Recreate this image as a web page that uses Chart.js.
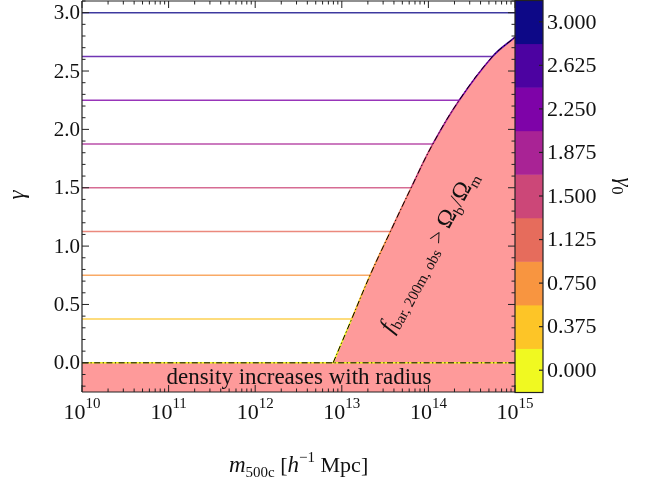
<!DOCTYPE html>
<html>
<head>
<meta charset="utf-8">
<script src="https://cdn.jsdelivr.net/npm/chart.js@4.4.1/dist/chart.umd.min.js"></script>
<style>
  html, body { margin: 0; padding: 0; background: #fff; }
  #wrap { width: 650px; height: 485px; }
</style>
</head>
<body>
<div id="wrap"><canvas id="chart" width="650" height="485"></canvas></div>
<script>
// gamma_0 levels and their plasma colours (low -> high)
const gammaLevels = [0, 0.375, 0.75, 1.125, 1.5, 1.875, 2.25, 2.625, 3.0];
const levelColors = ['#f0f921', '#fdc527', '#f89540', '#e66c5c', '#cc4778', '#a92395', '#7e03a8', '#4c02a1', '#0d0887'];
const levelLabels = ['0.000', '0.375', '0.750', '1.125', '1.500', '1.875', '2.250', '2.625', '3.000'];
// where each constant-gamma line stops (meets the shaded region)
const lineStartMass = 1e10;
const lineEndMass = [1e15, 1.30e13, 2.12e13, 3.64e13, 6.32e13, 1.125e14, 2.27e14, 5.51e14, 1e15];
// boundary of f_bar > Omega_b/Omega_m region
const boundaryMass = [7.94e12, 1.30e13, 2.12e13, 3.64e13, 6.32e13, 1.125e14, 2.27e14, 5.51e14, 1e15];
const boundaryGamma = [0, 0.375, 0.75, 1.125, 1.5, 1.875, 2.25, 2.625, 2.79];
// axis ticks
const xTickExp = [10, 11, 12, 13, 14, 15];
const yTickValues = [0, 0.5, 1.0, 1.5, 2.0, 2.5, 3.0];
const yMinorStep = 0.1;

const SERIF = "'Liberation Serif', 'DejaVu Serif', serif";
const PINK = '#fe9a9a';
const DASHDOT = [6, 2.5, 1.2, 2.5];

function levelColor(g) {
  let best = 0;
  gammaLevels.forEach((v, i) => { if (Math.abs(v - g) < Math.abs(gammaLevels[best] - g)) best = i; });
  return levelColors[best];
}

function withAlpha(hex, a) {
  const n = parseInt(hex.slice(1), 16);
  return `rgba(${(n >> 16) & 255},${(n >> 8) & 255},${n & 255},${a})`;
}

const boundaryPts = boundaryMass.map((m, i) => ({ x: m, y: boundaryGamma[i] }));
const zeroPts = [{ x: 1e10, y: 0 }, { x: 1e15, y: 0 }];
const curveOpts = { tension: 0.4, pointRadius: 0 };

const datasets = [];
// shaded regions
datasets.push({
  data: zeroPts, fill: 'start', backgroundColor: PINK, borderWidth: 0, pointRadius: 0, order: 20,
});
datasets.push({
  data: boundaryPts, fill: 'start', backgroundColor: PINK, borderWidth: 0, order: 19, ...curveOpts,
});
// coloured edge of the region
datasets.push({
  data: boundaryPts, fill: false, borderWidth: 1.6, order: 12, ...curveOpts,
  segment: { borderColor: (c) => levelColor(c.p0.parsed.y) },
});
// constant-gamma lines
gammaLevels.forEach((g, i) => {
  datasets.push({
    data: [{ x: lineStartMass, y: g }, { x: lineEndMass[i], y: g }],
    borderColor: i === 0 ? levelColors[i] : withAlpha(levelColors[i], 0.8),
    borderWidth: 1.5, pointRadius: 0, fill: false, order: 10,
  });
});
// dash-dot boundary lines
datasets.push({
  data: zeroPts, borderColor: '#000', borderWidth: 1, borderDash: DASHDOT, pointRadius: 0, fill: false, order: 1,
});
datasets.push({
  data: boundaryPts, borderColor: '#000', borderWidth: 1, borderDash: DASHDOT, fill: false, order: 1, ...curveOpts,
});

// draw a run of text pieces: [text, font, dy]
function drawRuns(ctx, runs, x, y) {
  let cx = x;
  runs.forEach(([t, f, dy]) => {
    ctx.font = f;
    ctx.fillText(t, cx, y + (dy || 0));
    cx += ctx.measureText(t).width;
  });
  return cx - x;
}
function runsWidth(ctx, runs) {
  let w = 0;
  runs.forEach(([t, f]) => { ctx.font = f; w += ctx.measureText(t).width; });
  return w;
}

const decor = {
  id: 'decor',
  afterDraw(chart) {
    const { ctx, chartArea: a, scales: { x, y } } = chart;
    ctx.save();
    ctx.fillStyle = '#111';
    ctx.strokeStyle = '#222';

    // colourbar
    const cbL = a.right, cbW = 28, cbT = a.top - 1, cbB = a.bottom;
    const h = (cbB - cbT) / gammaLevels.length;
    gammaLevels.forEach((g, i) => {
      ctx.fillStyle = levelColors[i];
      ctx.fillRect(cbL, cbB - (i + 1) * h, cbW, h + 0.5);
    });
    ctx.lineWidth = 1.2;
    ctx.strokeRect(cbL, cbT + 0.5, cbW, cbB - cbT);
    ctx.fillStyle = '#111';
    ctx.font = `22px ${SERIF}`;
    ctx.textAlign = 'left';
    ctx.textBaseline = 'middle';
    levelLabels.forEach((lab, i) => {
      const cy = cbB - (i + 0.5) * h;
      ctx.beginPath();
      ctx.moveTo(cbL + cbW, cy); ctx.lineTo(cbL + cbW - 4, cy); ctx.stroke();
      ctx.fillText(lab, cbL + cbW + 4, cy + 1);
    });

    // frame
    ctx.lineWidth = 1.2;
    ctx.beginPath();
    ctx.moveTo(a.left, a.top); ctx.lineTo(a.right, a.top);
    ctx.moveTo(a.left, a.top); ctx.lineTo(a.left, a.bottom);
    ctx.moveTo(a.left, a.bottom); ctx.lineTo(a.right, a.bottom);
    ctx.stroke();

    // x ticks (log, inward, top & bottom)
    ctx.lineWidth = 1;
    ctx.beginPath();
    xTickExp.forEach((e, k) => {
      const px = x.getPixelForValue(Math.pow(10, e));
      ctx.moveTo(px, a.bottom); ctx.lineTo(px, a.bottom - 7);
      ctx.moveTo(px, a.top); ctx.lineTo(px, a.top + 7);
      if (k < xTickExp.length - 1) {
        for (let m = 2; m <= 9; m++) {
          const q = x.getPixelForValue(m * Math.pow(10, e));
          ctx.moveTo(q, a.bottom); ctx.lineTo(q, a.bottom - 3.5);
          ctx.moveTo(q, a.top); ctx.lineTo(q, a.top + 3.5);
        }
      }
    });
    // y ticks (inward, left & right)
    for (let v = -0.2; v <= 3.1 + 1e-9; v += yMinorStep) {
      const py = y.getPixelForValue(v);
      const major = yTickValues.some((t) => Math.abs(t - v) < 1e-6);
      const len = major ? 7 : 3.5;
      ctx.moveTo(a.left, py); ctx.lineTo(a.left + len, py);
      ctx.moveTo(a.right, py); ctx.lineTo(a.right - len, py);
    }
    ctx.stroke();

    // y tick labels
    ctx.font = `21px ${SERIF}`;
    ctx.textAlign = 'right';
    ctx.textBaseline = 'middle';
    yTickValues.forEach((v) => ctx.fillText(v.toFixed(1), a.left - 2, y.getPixelForValue(v) + 1));

    // x tick labels 10^n
    ctx.textAlign = 'left';
    ctx.textBaseline = 'alphabetic';
    xTickExp.forEach((e) => {
      const runs = [['10', `22px ${SERIF}`, 0], [String(e), `15px ${SERIF}`, -11]];
      const w = runsWidth(ctx, runs);
      drawRuns(ctx, runs, x.getPixelForValue(Math.pow(10, e)) - w / 2, 419);
    });

    // x title
    drawRuns(ctx, [
      ['m', `italic 23px ${SERIF}`, 0],
      ['500c', `15px ${SERIF}`, 5],
      [' [', `22px ${SERIF}`, 0],
      ['h', `italic 23px ${SERIF}`, 0],
      ['\u22121', `15px ${SERIF}`, -10],
      [' Mpc]', `22px ${SERIF}`, 0],
    ], 229, 472);

    // y title
    ctx.save();
    ctx.translate(24, 195);
    ctx.rotate(-Math.PI / 2);
    ctx.textAlign = 'center';
    ctx.font = `italic 23px ${SERIF}`;
    ctx.fillText('\u03b3', 0, 0);
    ctx.restore();

    // colourbar title
    ctx.save();
    ctx.translate(617, 186);
    ctx.rotate(Math.PI / 2);
    const cbRuns = [['\u03b3', `italic 23px ${SERIF}`, 0], ['0', `16px ${SERIF}`, 5]];
    drawRuns(ctx, cbRuns, -runsWidth(ctx, cbRuns) / 2, 0);
    ctx.restore();

    // region annotations
    ctx.fillStyle = '#111';
    ctx.font = `23px ${SERIF}`;
    ctx.textAlign = 'center';
    ctx.fillText('density increases with radius', 299, 384);

    ctx.save();
    ctx.textAlign = 'left';
    ctx.translate(392, 334);
    ctx.rotate(-61.4 * Math.PI / 180);
    drawRuns(ctx, [
      ['f', `italic 24px ${SERIF}`, 0],
      ['bar, 200m, obs', `15px ${SERIF}`, 5],
      [' > ', `22px ${SERIF}`, 0],
      ['\u03a9', `24px ${SERIF}`, 0],
      ['b', `15px ${SERIF}`, 5],
      ['/', `22px ${SERIF}`, 0],
      ['\u03a9', `24px ${SERIF}`, 0],
      ['m', `15px ${SERIF}`, 5],
    ], 0, 0);
    ctx.restore();

    ctx.restore();
  },
};

new Chart(document.getElementById('chart'), {
  type: 'line',
  data: { datasets },
  options: {
    responsive: false,
    animation: false,
    events: [],
    layout: { padding: { left: 82, right: 135, top: 1, bottom: 93 } },
    plugins: { legend: { display: false }, tooltip: { enabled: false } },
    scales: {
      x: { type: 'logarithmic', min: 1e10, max: 1e15, display: false },
      y: { type: 'linear', min: -0.25, max: 3.1, display: false },
    },
  },
  plugins: [decor],
});
</script>
</body>
</html>
